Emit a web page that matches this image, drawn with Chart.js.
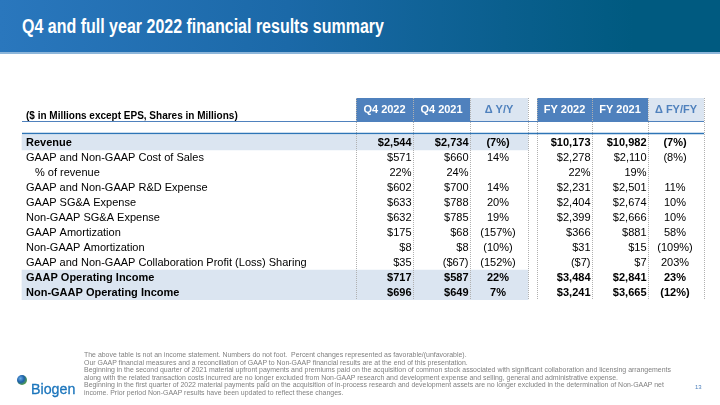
<!DOCTYPE html>
<html>
<head>
<meta charset="utf-8">
<script src="https://cdn.jsdelivr.net/npm/chart.js@4.4.1/dist/chart.umd.min.js"></script>
<style>
  body{margin:0;width:720px;height:405px;position:relative;overflow:hidden;background:#fff;font-family:"Liberation Sans",Arial,sans-serif;}
  #titlebar{position:absolute;left:0;top:0;width:720px;height:52px;background:linear-gradient(90deg,#2a77bd 0%,#1b69a8 40%,#0a5f8e 70%,#005a80 88%,#005a80 100%);border-bottom:2px solid #8db6da;}
  #title{position:absolute;left:22px;top:16px;line-height:20px;color:#fff;font-weight:bold;font-size:20px;white-space:nowrap;transform:scaleX(0.8);transform-origin:left top;}
  #table{position:absolute;left:0;top:0;}
  #notes{position:absolute;left:84px;top:351px;font-size:6.95px;line-height:7.5px;color:#808080;white-space:nowrap;}
  #logo{position:absolute;left:31px;top:381px;line-height:15px;font-size:15px;color:#1b75bc;transform:scaleX(0.95);transform-origin:left top;-webkit-text-stroke:0.3px #1b75bc;}
  #dot{position:absolute;left:17px;top:375px;width:10px;height:10px;border-radius:50%;background:radial-gradient(circle at 35% 35%,#6aaee6 0%,#1d5fa8 40%,#4f9a55 70%,#a6cf6a 100%);}
  #page{position:absolute;left:695px;top:384px;font-size:6px;color:#4f81bd;}
</style>
</head>
<body>
<div id="titlebar"><div id="title">Q4 and full year 2022 financial results summary</div></div>
<canvas id="table" width="720" height="405"></canvas>
<div id="notes">
The above table is not an income statement. Numbers do not foot.&nbsp; Percent changes represented as favorable/(unfavorable).<br>
Our GAAP financial measures and a reconciliation of GAAP to Non-GAAP financial results are at the end of this presentation.<br>
Beginning in the second quarter of 2021 material upfront payments and premiums paid on the acquisition of common stock associated with significant collaboration and licensing arrangements<br>
along with the related transaction costs incurred are no longer excluded from Non-GAAP research and development expense and selling, general and administrative expense.<br>
Beginning in the first quarter of 2022 material payments paid on the acquisition of in-process research and development assets are no longer excluded in the determination of Non-GAAP net<br>
income. Prior period Non-GAAP results have been updated to reflect these changes.
</div>
<div id="dot"></div>
<div id="logo">Biogen</div>
<div id="page">13</div>

<script>
// table data
var rowLabels = [
  "Revenue",
  "GAAP and Non-GAAP Cost of Sales",
  "% of revenue",
  "GAAP and Non-GAAP R&D Expense",
  "GAAP SG&A Expense",
  "Non-GAAP SG&A Expense",
  "GAAP Amortization",
  "Non-GAAP Amortization",
  "GAAP and Non-GAAP Collaboration Profit (Loss) Sharing",
  "GAAP Operating Income",
  "Non-GAAP Operating Income"
];
var boldRows = [true, false, false, false, false, false, false, false, false, true, true];
var indentRows = [false, false, true, false, false, false, false, false, false, false, false];
var percentRows = [false, false, true, false, false, false, false, false, false, false, false];

var columnHeaders = ["Q4 2022", "Q4 2021", "\u0394 Y/Y", "FY 2022", "FY 2021", "\u0394 FY/FY"];
var headerNote = "($ in Millions except EPS, Shares in Millions)";

var q4_2022 = [2544, 571, 22, 602, 633, 632, 175, 8, 35, 717, 696];
var q4_2021 = [2734, 660, 24, 700, 788, 785, 68, 8, -67, 587, 649];
var deltaYY = [-7, 14, null, 14, 20, 19, -157, -10, -152, 22, 7];
var fy_2022 = [10173, 2278, 22, 2231, 2404, 2399, 366, 31, -7, 3484, 3241];
var fy_2021 = [10982, 2110, 19, 2501, 2674, 2666, 881, 15, 7, 2841, 3665];
var deltaFY = [-7, -8, null, 11, 10, 10, 58, -109, 203, 23, -12];

// layout (pixels on the x scale)
var tableLeft = 22;
var colEdges = [356, 413, 470, 528, 537, 592, 648, 704];
var colRanges = [[356, 413], [413, 470], [470, 528], [537, 592], [592, 648], [648, 704]];
var darkBlue = "#4f81bd";
var lightBlue = "#dbe5f1";

function fmtMoney(v){
  var s = "$" + Math.abs(v).toLocaleString("en-US");
  return v < 0 ? "(" + s + ")" : s;
}
function fmtPct(v){
  if (v === null) return "";
  return v < 0 ? "(" + Math.abs(v) + "%)" : v + "%";
}
function cellText(v, i, isDelta){
  if (v === null) return "";
  if (isDelta || percentRows[i]) return fmtPct(v);
  return fmtMoney(v);
}

var shadeLeft = rowLabels.map(function(l, i){ return boldRows[i] ? [tableLeft, 528] : null; });
var shadeRight = rowLabels.map(function(l, i){ return boldRows[i] ? [537, 704] : null; });

var tablePlugin = {
  id: "tablePlugin",
  afterDatasetsDraw: function(chart){
    var ctx = chart.ctx;
    var xs = chart.scales.x;
    var ys = chart.scales.y;
    var top = chart.chartArea.top;
    var headTop = top - 37;
    var headBottom = top - 14;
    ctx.save();

    // header cells
    for (var c = 0; c < colRanges.length; c++){
      var x0 = xs.getPixelForValue(colRanges[c][0]);
      var x1 = xs.getPixelForValue(colRanges[c][1]);
      var isDelta = (c == 2 || c == 5);
      ctx.fillStyle = isDelta ? lightBlue : darkBlue;
      ctx.fillRect(x0, headTop, x1 - x0, headBottom - headTop);
      ctx.fillStyle = isDelta ? darkBlue : "#ffffff";
      ctx.font = "bold 11px 'Liberation Sans', Arial, sans-serif";
      ctx.textAlign = "center";
      ctx.textBaseline = "middle";
      ctx.fillText(columnHeaders[c], (x0 + x1) / 2, (headTop + headBottom) / 2 + 0.5);
    }

    // dotted column lines
    ctx.strokeStyle = "#b0b0b0";
    ctx.lineWidth = 1;
    ctx.setLineDash([1, 1]);
    colEdges.forEach(function(e){
      var x = Math.round(xs.getPixelForValue(e)) + 0.5;
      ctx.beginPath();
      ctx.moveTo(x, headTop);
      ctx.lineTo(x, chart.chartArea.bottom);
      ctx.stroke();
    });
    ctx.setLineDash([]);

    // blue rules
    ctx.strokeStyle = darkBlue;
    ctx.lineWidth = 1;
    ctx.beginPath();
    ctx.moveTo(xs.getPixelForValue(tableLeft), headBottom + 0.5);
    ctx.lineTo(xs.getPixelForValue(704), headBottom + 0.5);
    ctx.stroke();
    ctx.strokeStyle = "#2e75b6";
    ctx.lineWidth = 1.5;
    ctx.beginPath();
    ctx.moveTo(xs.getPixelForValue(tableLeft), top - 1.5);
    ctx.lineTo(xs.getPixelForValue(704), top - 1.5);
    ctx.stroke();

    // header note
    ctx.fillStyle = "#000";
    ctx.font = "bold 10px 'Liberation Sans', Arial, sans-serif";
    ctx.textAlign = "left";
    ctx.textBaseline = "middle";
    ctx.fillText(headerNote, xs.getPixelForValue(tableLeft + 4), headBottom - 5);

    // body cells
    var cols = [q4_2022, q4_2021, deltaYY, fy_2022, fy_2021, deltaFY];
    for (var i = 0; i < rowLabels.length; i++){
      var y = ys.getPixelForValue(i) + 0.5;
      ctx.font = (boldRows[i] ? "bold " : "") + "11px 'Liberation Sans', Arial, sans-serif";
      ctx.fillStyle = "#000";
      ctx.textAlign = "left";
      ctx.fillText(rowLabels[i], xs.getPixelForValue(tableLeft + (indentRows[i] ? 13 : 4)), y);
      for (var k = 0; k < cols.length; k++){
        var d = (k == 2 || k == 5);
        var txt = cellText(cols[k][i], i, d);
        if (d){
          ctx.textAlign = "center";
          ctx.fillText(txt, xs.getPixelForValue((colRanges[k][0] + colRanges[k][1]) / 2 - 1), y);
        }else{
          ctx.textAlign = "right";
          ctx.fillText(txt, xs.getPixelForValue(colRanges[k][1] - 1.5), y);
        }
      }
    }
    ctx.restore();
  }
};

var chart = new Chart(document.getElementById("table"), {
  type: "bar",
  data: {
    labels: rowLabels,
    datasets: [
      {data: shadeLeft, backgroundColor: lightBlue, barPercentage: 1, categoryPercentage: 1},
      {data: shadeRight, backgroundColor: lightBlue, barPercentage: 1, categoryPercentage: 1}
    ]
  },
  options: {
    indexAxis: "y",
    responsive: false,
    animation: false,
    devicePixelRatio: 1,
    layout: {padding: {top: 135, bottom: 105, left: 0, right: 0}},
    scales: {
      x: {type: "linear", min: 0, max: 720, display: false, stacked: true},
      y: {type: "category", display: false, offset: true, stacked: true}
    },
    plugins: {legend: {display: false}, tooltip: {enabled: false}, title: {display: false}}
  },
  plugins: [tablePlugin]
});
</script>
</body>
</html>
